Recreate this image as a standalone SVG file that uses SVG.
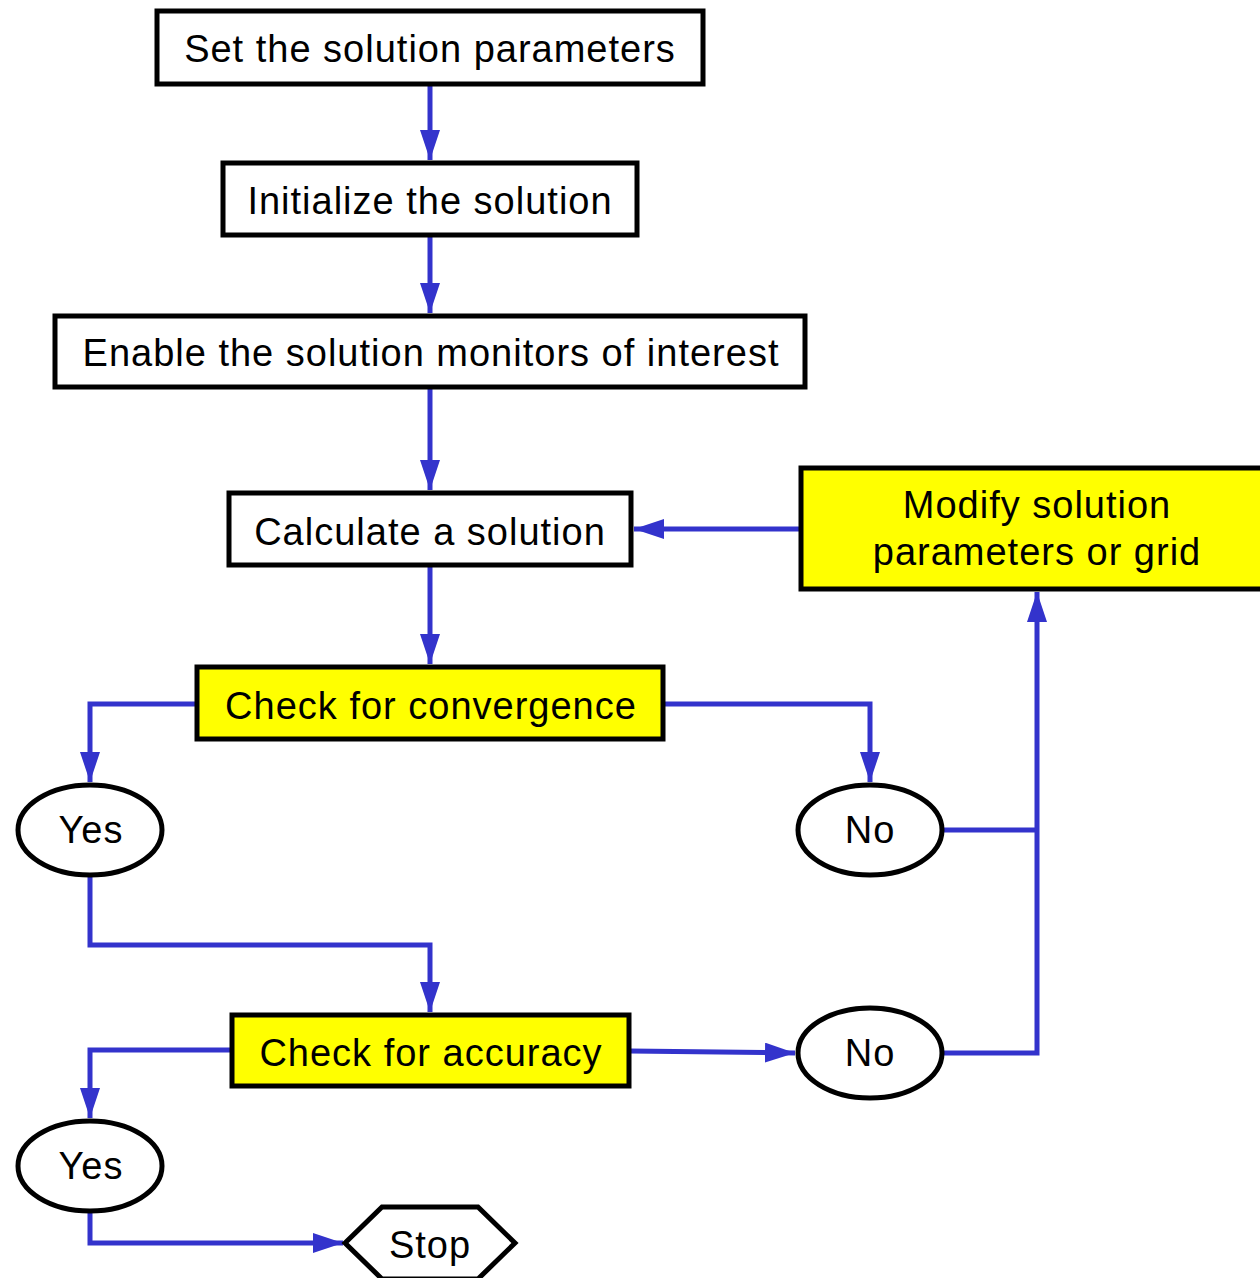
<svg xmlns="http://www.w3.org/2000/svg" width="1260" height="1278" viewBox="0 0 1260 1278">
  <style>
    .box { fill: #ffffff; stroke: #000000; stroke-width: 5; }
    .hl { fill: #ffff00; stroke: #000000; stroke-width: 5; }
    .lbl { font-family: "Liberation Sans", Arial, sans-serif; font-size: 38px; letter-spacing: 1px; fill: #000000; text-anchor: middle; }
    .wire { fill: none; stroke: #3333cc; stroke-width: 5; stroke-linejoin: miter; }
  </style>
  <defs>
    <marker id="arrow" viewBox="0 0 30 20" refX="30" refY="10" markerWidth="30" markerHeight="20" markerUnits="userSpaceOnUse" orient="auto">
      <path d="M0,0 L30,10 L0,20 Z" fill="#3333cc"/>
    </marker>
  </defs>
  <rect width="1260" height="1278" fill="#ffffff"/>

  <!-- flow connectors -->
  <g id="connectors">
    <path class="wire" d="M430,85 V160" marker-end="url(#arrow)"/>
    <path class="wire" d="M430,236 V313" marker-end="url(#arrow)"/>
    <path class="wire" d="M430,388 V490" marker-end="url(#arrow)"/>
    <path class="wire" d="M430,566 V664" marker-end="url(#arrow)"/>
    <path class="wire" d="M800,529 H634" marker-end="url(#arrow)"/>
    <path class="wire" d="M196,704 H90 V782" marker-end="url(#arrow)"/>
    <path class="wire" d="M664,704 H870 V782" marker-end="url(#arrow)"/>
    <path class="wire" d="M942,830 H1037"/>
    <path class="wire" d="M942,1053 H1037 V592" marker-end="url(#arrow)"/>
    <path class="wire" d="M90,876 V945 H430 V1012" marker-end="url(#arrow)"/>
    <path class="wire" d="M231,1050 H90 V1118" marker-end="url(#arrow)"/>
    <path class="wire" d="M630,1051 L795,1053" marker-end="url(#arrow)"/>
    <path class="wire" d="M90,1212 V1243 H343" marker-end="url(#arrow)"/>
  </g>

  <g id="set-params">
    <rect class="box" x="157" y="11" width="546" height="73"/>
    <text class="lbl" x="430" y="62">Set the solution parameters</text>
  </g>
  <g id="init-solution">
    <rect class="box" x="223" y="163" width="414" height="72"/>
    <text class="lbl" x="430" y="214">Initialize the solution</text>
  </g>
  <g id="enable-monitors">
    <rect class="box" x="55" y="316" width="750" height="71"/>
    <text class="lbl" x="431" y="366">Enable the solution monitors of interest</text>
  </g>
  <g id="calculate">
    <rect class="box" x="229" y="493" width="402" height="72"/>
    <text class="lbl" x="430" y="545">Calculate a solution</text>
  </g>
  <g id="modify">
    <rect class="hl" x="801" y="468" width="462" height="121"/>
    <text class="lbl" x="1037" y="518">Modify solution</text>
    <text class="lbl" x="1037" y="565">parameters or grid</text>
  </g>
  <g id="check-convergence">
    <rect class="hl" x="197" y="667" width="466" height="72"/>
    <text class="lbl" x="431" y="719">Check for convergence</text>
  </g>
  <g id="yes-convergence">
    <ellipse class="box" cx="90" cy="830" rx="72" ry="45"/>
    <text class="lbl" x="91" y="843">Yes</text>
  </g>
  <g id="no-convergence">
    <ellipse class="box" cx="870" cy="830" rx="72" ry="45"/>
    <text class="lbl" x="870" y="843">No</text>
  </g>
  <g id="check-accuracy">
    <rect class="hl" x="232" y="1015" width="397" height="71"/>
    <text class="lbl" x="431" y="1066">Check for accuracy</text>
  </g>
  <g id="no-accuracy">
    <ellipse class="box" cx="870" cy="1053" rx="72" ry="45"/>
    <text class="lbl" x="870" y="1066">No</text>
  </g>
  <g id="yes-accuracy">
    <ellipse class="box" cx="90" cy="1166" rx="72" ry="45"/>
    <text class="lbl" x="91" y="1179">Yes</text>
  </g>
  <g id="stop">
    <polygon class="box" points="345,1243 382,1207 478,1207 515,1243 478,1279 382,1279"/>
    <text class="lbl" x="430" y="1258">Stop</text>
  </g>
</svg>
